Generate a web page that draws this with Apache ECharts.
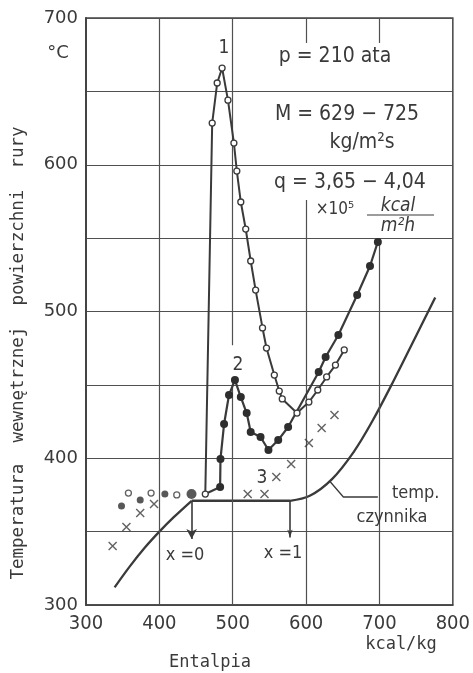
<!DOCTYPE html>
<html><head><meta charset="utf-8">
<script src="https://cdn.jsdelivr.net/npm/echarts@6/dist/echarts.min.js"></script>
<style>html,body{margin:0;padding:0;background:#fff}#c{width:473px;height:673px}</style>
</head><body><div id="c"></div>
<script>
// ---- data ----
const xTicks = [300, 400, 500, 600, 700, 800];
const yTicks = [300, 400, 500, 600, 700];
// curve 1 (open circles, peak "1")
const curve1 = [[462.6,375.6],[472,628.4],[478.8,655.7],[485.5,665.9],[493.5,644],[501.6,614.8],[505.6,595.7],[511,574.6],[517.7,556.2],[524.5,534.4],[531.2,514.6],[540.6,488.8],[546,475.1],[556.7,456.7],[563.4,445.8],[567.5,440.4],[587.6,430.8],[603.8,438.3],[615.9,446.5],[628,455.4],[640,463.5],[652,473.8]];
// curve 2 (filled circles, peak "2")
const curve2Start = [462.6,375.6];
const curve2 = [[482.8,380.4],[483.3,399.5],[488.2,423.3],[494.9,443.1],[503,453.3],[511,441.7],[519,430.8],[524.5,417.9],[537.9,414.5],[548.7,405.6],[562,412.4],[575.5,421.3],[617.2,458.8],[626.6,469],[644,484],[669.6,511.2],[687.1,531],[697.8,547.4]];
// scattered points before the crisis
const filledPts = [[348.4,367.5],[373.9,371.6],[407.5,375.6]];
const filledBig = [[443.8,375.6]];
const openPts = [[357.8,376.3],[388.7,376.3],[423.7,375]];
// "x" points (curve 3)
const crossPts = [[336.3,340.2],[355.1,353.2],[373.9,362.7],[392.7,368.8],[520.4,375.6],[543.3,375.6],[559.4,387.2],[579.6,396.1],[603.8,410.4],[621.2,420.6],[638.7,429.5]];
// fluid temperature (temp. czynnika)
const fluidLow = [[339,312],[360,326.5],[380,339],[400,350],[420,360],[444,371]];
const fluidSat = [[444,371],[578,371]];
const fluidHigh = [[578,371],[605,374.4],[635,385.6],[665,404.4],[690,425],[720,453.5],[750,483.5],[776,509.5]];
const leader = [[632,384.5],[650.8,373.6],[697.8,373.6]];
const x0 = 444, x1 = 578, tSat = 371, arrowEnd = 345;

const ink = '#3a3a3a';
const gridC = '#505050';
const chart = echarts.init(document.getElementById('c'), null, {renderer:'canvas'});

function seg(a, b){ return [{coord:a},{coord:b}]; }
const gridSegs = [
  seg([400,300],[400,700]),
  seg([500,300],[500,451]), seg([500,477],[500,700]),
  seg([600,300],[600,576]), seg([600,683],[600,700]),
  seg([700,300],[700,550]), seg([700,683],[700,700])
];

const narrow = '"Liberation Sans Narrow","DejaVu Sans Condensed","DejaVu Sans",sans-serif';
const mono = '"DejaVu Sans Mono",monospace';
function txt(x, y, s, opt){
  return Object.assign({type:'text', x:x, y:y, z:10, silent:true,
    style:Object.assign({text:s, fill:ink, font:'19px '+narrow, align:'center', verticalAlign:'middle'}, (opt&&opt.style)||{})},
    opt ? (({style, ...rest})=>rest)(opt) : {});
}

chart.setOption({
  animation:false,
  backgroundColor:'#fff',
  grid:{left:86, top:18, width:372, height:587, show:true, borderColor:'#444', borderWidth:1.5},
  xAxis:{type:'value', min:300, max:800, interval:100,
    axisLine:{show:true, lineStyle:{color:'#444', width:1.5}}, axisTick:{show:false}, splitLine:{show:false},
    axisLabel:{margin:9, color:ink, fontSize:20, fontFamily:narrow,
      formatter:v=> xTicks.includes(v) ? String(v) : ''}},
  yAxis:{type:'value', min:300, max:700, interval:50,
    axisLine:{show:true, lineStyle:{color:'#444', width:2}}, axisTick:{show:false},
    splitLine:{show:true, lineStyle:{color:gridC, width:1.2}},
    axisLabel:{margin:8, color:ink, fontSize:18, fontFamily:'"DejaVu Sans",sans-serif',
      formatter:v=> yTicks.includes(v) ? String(v) : ''}},
  series:[
    {type:'line', data:[], z:1, silent:true, markLine:{silent:true, symbol:['none','none'], label:{show:false},
      lineStyle:{type:'solid', color:gridC, width:1.2}, emphasis:{disabled:true}, data:gridSegs}},
    {type:'line', data:fluidLow, smooth:0.4, symbol:'none', lineStyle:{color:ink, width:2.3}, z:3},
    {type:'line', data:fluidSat, symbol:'none', lineStyle:{color:ink, width:2.6}, z:3,
      markLine:{silent:true, label:{show:false}, lineStyle:{type:'solid', color:ink, width:1.6},
        data:[
          [{coord:[x0,tSat], symbol:'none'},{coord:[x0,arrowEnd], symbol:'arrow', symbolSize:[8,10]}],
          [{coord:[x1,tSat], symbol:'none'},{coord:[x1,arrowEnd+1], symbol:'arrow', symbolSize:[4,8]}]
        ]}},
    {type:'line', data:fluidHigh, smooth:0.35, symbol:'none', lineStyle:{color:ink, width:2.3}, z:3},
    {type:'line', data:leader, symbol:'none', lineStyle:{color:ink, width:1.3}, z:3},
    {type:'line', data:[{value:curve2Start, symbol:'none'}].concat(curve2), symbol:'circle', symbolSize:8,
      itemStyle:{color:'#2e2e2e'}, lineStyle:{color:ink, width:2.2}, z:5},
    {type:'line', data:curve1, symbol:'circle', symbolSize:6,
      itemStyle:{color:'#fff', borderColor:ink, borderWidth:1.3}, lineStyle:{color:ink, width:2}, z:6},
    {type:'scatter', data:filledPts, symbol:'circle', symbolSize:7, itemStyle:{color:'#2e2e2e'}, z:5},
    {type:'scatter', data:filledBig, symbol:'circle', symbolSize:10, itemStyle:{color:'#2e2e2e'}, z:5},
    {type:'scatter', data:openPts, symbol:'circle', symbolSize:6, itemStyle:{color:'#fff', borderColor:ink, borderWidth:1.3}, z:5},
    {type:'scatter', data:crossPts, symbol:'path://M0,0L10,10M10,0L0,10', symbolSize:8,
      itemStyle:{color:'none', borderColor:ink, borderWidth:1.4}, z:5}
  ],
  graphic:[
    txt(58,53,'°C',{style:{font:'18px "DejaVu Sans",sans-serif'}}),
    txt(224,48,'1'), txt(238,365,'2'), txt(262,478,'3'),
    txt(335,57,'p = 210 ata',{style:{font:'21px '+narrow}}),
    txt(347,115,'M = 629 − 725',{style:{font:'21px '+narrow}}),
    txt(362,143,'kg/m²s',{style:{font:'21px '+narrow}}),
    txt(350,183,'q = 3,65 − 4,04',{style:{font:'21px '+narrow}}),
    txt(335,210,'×10⁵',{style:{font:'17px '+narrow}}),
    txt(398,206,'kcal',{style:{font:'italic 19px '+narrow}}),
    {type:'line', z:10, silent:true, shape:{x1:367,y1:215,x2:434,y2:215}, style:{stroke:ink, lineWidth:1.2}},
    txt(398,226,'m²h',{style:{font:'italic 19px '+narrow}}),
    txt(392,493,'temp.',{style:{align:'left', font:'18px '+narrow}}),
    txt(392,517,'czynnika',{style:{font:'18px '+narrow}}),
    txt(185,555,'x =0',{style:{font:'18px '+narrow}}),
    txt(283,553,'x =1',{style:{font:'18px '+narrow}}),
    txt(401,645,'kcal/kg',{style:{font:'17px '+mono}}),
    txt(210,663,'Entalpia',{style:{font:'17px '+mono}}),
    txt(18,353,'Temperatura  wewnętrznej  powierzchni  rury',{rotation:Math.PI/2, style:{font:'17.5px '+mono}})
  ]
});
</script></body></html>
